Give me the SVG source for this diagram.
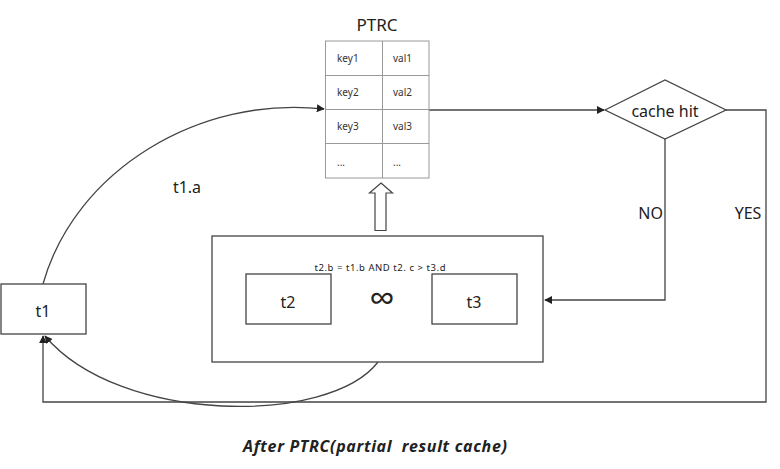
<svg xmlns="http://www.w3.org/2000/svg" width="780" height="469" viewBox="0 0 780 469">
<defs>
<style>
.ln{fill:none;stroke:#444;stroke-width:1.3}
.bx{fill:#fff;stroke:#444;stroke-width:1.3}
.tb{fill:#fff;stroke:#999;stroke-width:1}
.t{font-family:"Noto Sans","Open Sans",sans-serif;fill:#222}
.m{font-size:16px}
.s{font-size:10px;fill:#333}
</style>
<marker id="ah" viewBox="0 0 10 10" refX="9" refY="5" markerWidth="8" markerHeight="8" markerUnits="userSpaceOnUse" orient="auto">
<path d="M0,0 L10,5 L0,10 z" fill="#222"/>
</marker>
</defs>
<rect width="780" height="469" fill="#fff"/>

<g id="connectors">
<path class="ln" d="M43,284 C75,170 200,95 324,109" marker-end="url(#ah)"/>
<path class="ln" d="M429,110 L604,110" marker-end="url(#ah)"/>
<path class="ln" d="M665,139 L665,300 L545,300" marker-end="url(#ah)"/>
<path class="ln" d="M726,110 L766,110 L766,402 L43,402 L43,336" marker-end="url(#ah)"/>
<path class="ln" d="M378,362 C330,425 120,425 45,336" marker-end="url(#ah)"/>
<path d="M381,183 L392.5,193 L386,193 L386,230.5 L375,230.5 L375,193 L369.5,193 Z" fill="#fff" stroke="#444" stroke-width="1.2"/>
<text class="t m" x="187" y="193" text-anchor="middle">t1.a</text>
<text class="t m" x="663" y="219" text-anchor="end">NO</text>
<text class="t m" x="748" y="219" text-anchor="middle">YES</text>
</g>

<g id="ptrc">
<text class="t" x="377" y="31" font-size="17" text-anchor="middle">PTRC</text>
<rect class="tb" x="325.5" y="41" width="103.5" height="137"/>
<path d="M382.5,41 V178 M325.5,75.5 H429 M325.5,109.5 H429 M325.5,143.5 H429" stroke="#999" stroke-width="1" fill="none"/>
<text class="t s" x="337" y="62">key1</text>
<text class="t s" x="393" y="62">val1</text>
<text class="t s" x="337" y="96">key2</text>
<text class="t s" x="393" y="96">val2</text>
<text class="t s" x="337" y="130">key3</text>
<text class="t s" x="393" y="130">val3</text>
<text class="t s" x="337" y="166">...</text>
<text class="t s" x="393" y="166">...</text>
</g>

<g id="cachehit">
<path class="bx" d="M605,110 L665,80 L726,110 L665,139 Z"/>
<text class="t m" x="665" y="117" text-anchor="middle">cache hit</text>
</g>

<g id="join">
<rect class="bx" x="212" y="236" width="331" height="126"/>
<text class="t" x="380" y="271" font-size="9.5" fill="#334" text-anchor="middle" textLength="131" lengthAdjust="spacing">t2.b = t1.b  AND t2. c &gt; t3.d</text>
<text class="t" x="382" y="311" font-size="36" text-anchor="middle">∞</text>
</g>

<g id="t2">
<rect class="bx" x="246" y="274" width="85" height="50"/>
<text class="t m" x="288" y="308" text-anchor="middle">t2</text>
</g>

<g id="t3">
<rect class="bx" x="432" y="274" width="85" height="50"/>
<text class="t m" x="474" y="308" text-anchor="middle">t3</text>
</g>

<g id="t1">
<rect class="bx" x="1" y="284" width="85" height="50"/>
<text class="t m" x="43" y="317" text-anchor="middle">t1</text>
</g>

<text class="t" x="243" y="452" font-size="16" font-weight="bold" font-style="italic" xml:space="preserve" style="white-space:pre" textLength="264" lengthAdjust="spacing">After PTRC(partial  result cache)</text>
</svg>
